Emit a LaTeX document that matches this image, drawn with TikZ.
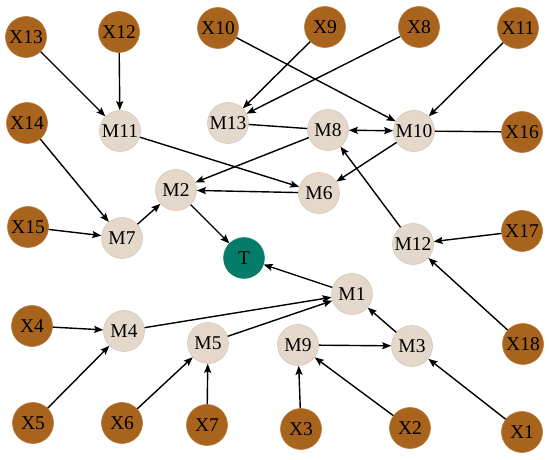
\documentclass[tikz,border=0pt]{standalone}
\usepackage{fontspec}
\setmainfont{Liberation Serif}
\newfontfamily\lserif{Liberation Serif}
\usetikzlibrary{arrows.meta}
\definecolor{xbrown}{HTML}{A8631D}
\definecolor{xbrownb}{HTML}{B8773A}
\definecolor{mbeige}{HTML}{E4D8CB}
\definecolor{mbeigeb}{HTML}{D6C6B6}
\definecolor{tteal}{HTML}{057C69}
\tikzset{
  xnode/.style={circle, fill=xbrown, draw=xbrownb, line width=0.6pt, minimum size=41pt, inner sep=0pt, font=\lserif\fontsize{19.5}{19.5}\selectfont},
  mnode/.style={circle, fill=mbeige, draw=mbeigeb, line width=0.6pt, minimum size=41pt, inner sep=0pt, font=\lserif\fontsize{19.5}{19.5}\selectfont},
  tnode/.style={circle, fill=tteal, draw=tteal, minimum size=41pt, inner sep=0pt, font=\lserif\fontsize{19.5}{19.5}\selectfont},
  edge/.style={line width=1.4pt, -{Stealth[length=9pt,width=7pt,inset=1.5pt]}},
  plain/.style={line width=1.4pt},
  both/.style={line width=1.4pt, {Stealth[length=9pt,width=7pt,inset=1.5pt]}-{Stealth[length=9pt,width=7pt,inset=1.5pt]}}
}
\begin{document}
\begin{tikzpicture}[x=1pt,y=-1pt]
\useasboundingbox (0,0) rectangle (550,460);
% X nodes
\node[xnode] (X13) at (26,37) {X13};
\node[xnode] (X12) at (119,32) {X12};
\node[xnode] (X10) at (218,28) {X10};
\node[xnode] (X9) at (325,27) {X9};
\node[xnode] (X8) at (419,27) {X8};
\node[xnode] (X11) at (518,28) {X11};
\node[xnode] (X14) at (27,123) {X14};
\node[xnode] (X16) at (522,132) {X16};
\node[xnode] (X15) at (28,227) {X15};
\node[xnode] (X17) at (522,231) {X17};
\node[xnode] (X4) at (32,326) {X4};
\node[xnode] (X18) at (523,344) {X18};
\node[xnode] (X5) at (33,423) {X5};
\node[xnode] (X6) at (122,423) {X6};
\node[xnode] (X7) at (207,425) {X7};
\node[xnode] (X3) at (301,429) {X3};
\node[xnode] (X2) at (410,428) {X2};
\node[xnode] (X1) at (522,432) {X1};
% M nodes
\node[mnode] (M11) at (120,131) {M11};
\node[mnode] (M13) at (228,123) {M13};
\node[mnode] (M8) at (328,130) {M8};
\node[mnode] (M10) at (414,131) {M10};
\node[mnode] (M2) at (176,190) {M2};
\node[mnode] (M6) at (319,193) {M6};
\node[mnode] (M7) at (122,238) {M7};
\node[mnode] (M12) at (413,244) {M12};
\node[mnode] (M1) at (352,294) {M1};
\node[mnode] (M4) at (124,331) {M4};
\node[mnode] (M5) at (208,343) {M5};
\node[mnode] (M9) at (298,345) {M9};
\node[mnode] (M3) at (412,346) {M3};
\node[tnode] (T) at (244,258) {T};
% edges
\draw[edge] (X13) -- (M11);
\draw[edge] (X12) -- (M11);
\draw[edge] (X10) -- (M10);
\draw[edge] (X9) -- (M13);
\draw[edge] (X8) -- (M13);
\draw[edge] (X11) -- (M10);
\draw[edge] (X14) -- (M7);
\draw[plain] (M13) -- (M8);
\draw[both] (M8) -- (M10);
\draw[plain] (M10) -- (X16);
\draw[edge] (M11) -- (M6);
\draw[edge] (M8) -- (M2);
\draw[edge] (M10) -- (M6);
\draw[edge] (M6) -- (M2);
\draw[edge] (X15) -- (M7);
\draw[edge] (M7) -- (M2);
\draw[edge] (M2) -- (T);
\draw[edge] (M12) -- (M8);
\draw[edge] (X17) -- (M12);
\draw[edge] (X18) -- (M12);
\draw[edge] (M1) -- (T);
\draw[edge] (X4) -- (M4);
\draw[edge] (M4) -- (M1);
\draw[edge] (M5) -- (M1);
\draw[edge] (M3) -- (M1);
\draw[edge] (M9) -- (M3);
\draw[edge] (X5) -- (M4);
\draw[edge] (X6) -- (M5);
\draw[edge] (X7) -- (M5);
\draw[edge] (X3) -- (M9);
\draw[edge] (X2) -- (M9);
\draw[edge] (X1) -- (M3);
\end{tikzpicture}
\end{document}
